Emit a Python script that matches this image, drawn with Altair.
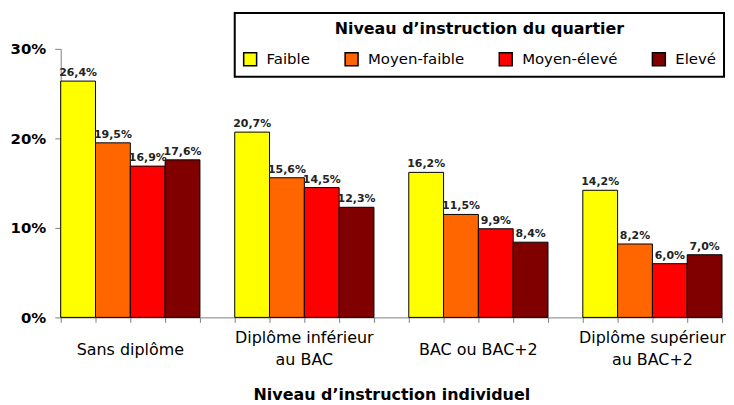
import altair as alt
import pandas as pd

groups = ["Sans diplôme", "Diplôme inférieur\nau BAC", "BAC ou BAC+2", "Diplôme supérieur\nau BAC+2"]
series = ["Faible", "Moyen-faible", "Moyen-élevé", "Elevé"]
colors = ["#FFFF00", "#FF6600", "#FF0000", "#800000"]

faible = [26.4, 20.7, 16.2, 14.2]
moyen_faible = [19.5, 15.6, 11.5, 8.2]
moyen_eleve = [16.9, 14.5, 9.9, 6.0]
eleve = [17.6, 12.3, 8.4, 7.0]

y_ticks = [0, 10, 20, 30]

rows = []
for si, vals in enumerate([faible, moyen_faible, moyen_eleve, eleve]):
    for gi, v in enumerate(vals):
        rows.append({"gi": gi, "si": si, "serie": series[si], "v": v})
df = pd.DataFrame(rows)

gdf = pd.DataFrame(
    {"gi": list(range(len(groups))), "g": groups,
     "nl": [g.count("\n") + 1 for g in groups]}
)

base = alt.Chart(df).transform_calculate(
    slot="datum.gi*5 + datum.si",
    slot2="datum.gi*5 + datum.si + 1",
    mid="datum.gi*5 + datum.si + 0.5",
    zero="0",
    lab="replace(format(datum.v, '.1f'), '.', ',') + '%'",
)

xscale = alt.Scale(domain=[0, 19], nice=False, zero=False)
yscale = alt.Scale(domain=[0, 30], nice=False)

bars = base.mark_bar(stroke="black", strokeWidth=1).encode(
    x=alt.X(
        "slot:Q",
        scale=xscale,
        axis=alt.Axis(
            values=list(range(20)),
            tickCount=40,
            labels=False,
            tickSize=5,
            tickColor="#808080",
            domainColor="#808080",
            grid=False,
            title="Niveau d’instruction individuel",
            titleFontSize=16,
            titleFontWeight="bold",
            titlePadding=64,
            titleColor="black",
        ),
    ),
    x2="slot2:Q",
    y=alt.Y(
        "v:Q",
        scale=yscale,
        axis=alt.Axis(
            values=y_ticks,
            labelExpr="datum.value + '%'",
            labelFontSize=15,
            labelFontWeight="bold",
            labelColor="black",
            labelPadding=9,
            tickSize=6,
            tickColor="#808080",
            domainColor="#808080",
            grid=False,
            title=None,
        ),
    ),
    y2="zero:Q",
    color=alt.Color(
        "serie:N",
        scale=alt.Scale(domain=series, range=colors),
        sort=series,
        legend=alt.Legend(
            orient="none",
            legendX=175,
            legendY=-36,
            direction="horizontal",
            title="Niveau d’instruction du quartier",
            titleAnchor="middle",
            titleFontSize=16,
            titleFontWeight="bold",
            titleColor="black",
            titlePadding=15,
            titleLimit=600,
            labelFontSize=15,
            labelColor="black",
            labelOffset=9,
            symbolType="square",
            symbolSize=169,
            symbolStrokeColor="black",
            symbolStrokeWidth=1.5,
            symbolOpacity=1,
            columnPadding=32,
            strokeColor="black",
            padding=8,
            fillColor="white",
        ),
    ),
)

texts = base.mark_text(
    baseline="bottom", dy=-3, fontSize=11, fontWeight="bold", color="#222222"
).encode(
    x=alt.X("mid:Q", scale=xscale),
    y=alt.Y("v:Q", scale=yscale),
    text="lab:N",
)

gbase = alt.Chart(gdf).transform_calculate(cx="datum.gi*5 + 2")

glab1 = gbase.transform_filter("datum.nl == 1").mark_text(
    baseline="middle", fontSize=16, color="black"
).encode(
    x=alt.X("cx:Q", scale=xscale),
    y=alt.value(303),
    text="g:N",
)

glab2 = gbase.transform_filter("datum.nl == 2").mark_text(
    baseline="middle", fontSize=16, color="black", lineBreak="\n", lineHeight=22
).encode(
    x=alt.X("cx:Q", scale=xscale),
    y=alt.value(291),
    text="g:N",
)

chart = (
    alt.layer(bars, texts, glab1, glab2)
    .properties(
        width=665,
        height=270,
        padding={"left": 2, "top": 3, "right": 0, "bottom": 0},
    )
    .configure(font="DejaVu Sans")
    .configure_view(stroke=None)
    .configure_legend(strokeWidth=2)
)

chart.save("out.html", embed_options={"renderer": "svg", "actions": False})
